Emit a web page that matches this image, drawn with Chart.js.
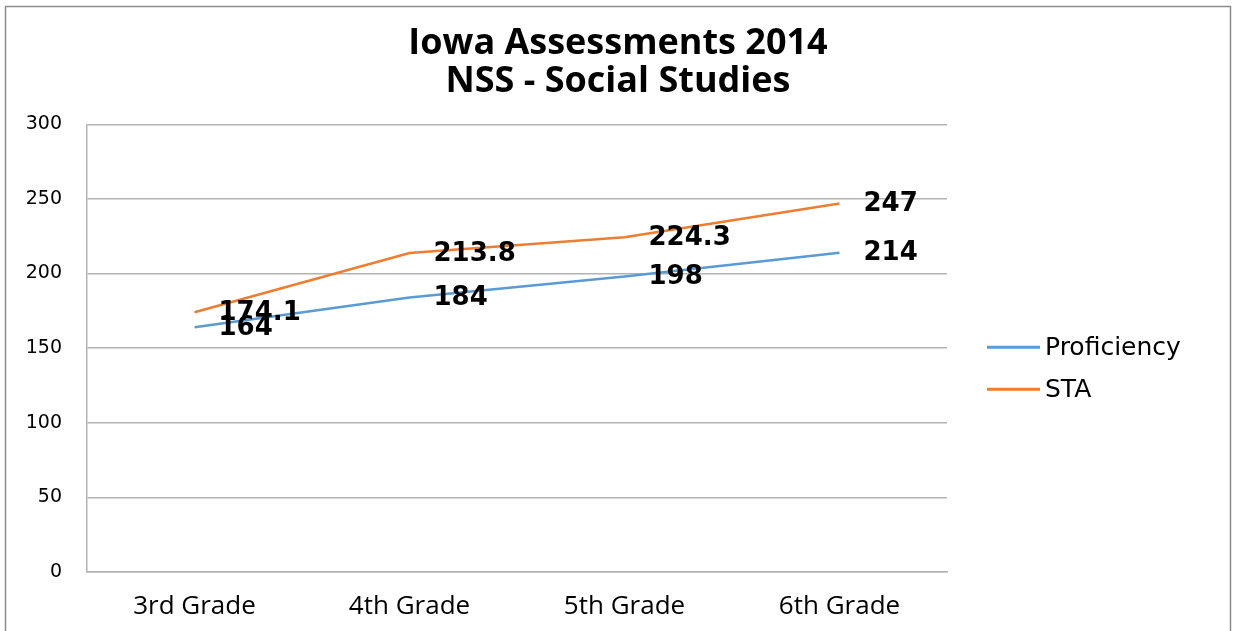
<!DOCTYPE html>
<html>
<head>
<meta charset="utf-8">
<script src="https://cdn.jsdelivr.net/npm/chart.js@4.4.1/dist/chart.umd.min.js"></script>
<style>
  html, body { margin: 0; padding: 0; background: #fff; }
  #wrap { width: 1236px; height: 631px; }
</style>
</head>
<body>
<div id="wrap"><canvas id="nssChart" width="1236" height="631"></canvas></div>
<script>
// chart data
const grades = ["3rd Grade", "4th Grade", "5th Grade", "6th Grade"];
const proficiency = [164, 184, 198, 214];
const sta = [174.1, 213.8, 224.3, 247];
const titleLines = ["Iowa Assessments 2014", "NSS - Social Studies"];

const BLUE = "#5b9bd5";
const ORANGE = "#ed7d31";
const GRID = "#b3b3b3";

// frame + white background
const framePlugin = {
  id: "frame",
  beforeDraw(chart) {
    const c = chart.ctx;
    c.save();
    c.fillStyle = "#fff";
    c.fillRect(0, 0, chart.width, chart.height);
    c.strokeStyle = "#8c8c8c";
    c.lineWidth = 1.5;
    c.strokeRect(5.5, 6.5, chart.width - 11, chart.height + 10);
    c.restore();
  }
};

// value labels to the right of each point
const valueLabels = {
  id: "valueLabels",
  afterDatasetsDraw(chart) {
    const c = chart.ctx;
    c.save();
    c.font = "bold 26px 'DejaVu Sans'";
    c.fillStyle = "#000";
    c.textAlign = "left";
    c.textBaseline = "middle";
    chart.data.datasets.forEach((ds, i) => {
      chart.getDatasetMeta(i).data.forEach((pt, j) => {
        c.fillText(String(ds.data[j]), pt.x + 24, pt.y + 1);
      });
    });
    c.restore();
  }
};

// line-style legend in the space right of the plot
const sideLegend = {
  id: "sideLegend",
  afterDraw(chart) {
    const c = chart.ctx;
    const area = chart.chartArea;
    const x0 = area.right + 40;
    const y0 = (area.top + area.bottom) / 2 - 1;
    c.save();
    c.font = "25px 'DejaVu Sans'";
    c.textBaseline = "middle";
    c.textAlign = "left";
    chart.data.datasets.forEach((ds, i) => {
      const y = y0 + i * 42;
      c.strokeStyle = ds.borderColor;
      c.lineWidth = 3;
      c.beginPath();
      c.moveTo(x0, y);
      c.lineTo(x0 + 53, y);
      c.stroke();
      c.fillStyle = "#000";
      c.fillText(ds.label, x0 + 58, y + 1);
    });
    c.restore();
  }
};

new Chart(document.getElementById("nssChart"), {
  type: "line",
  data: {
    labels: grades,
    datasets: [
      {
        label: "Proficiency",
        data: proficiency,
        yAxisID: "y",
        borderColor: BLUE,
        backgroundColor: BLUE,
        borderWidth: 2.5,
        pointRadius: 0,
        tension: 0
      },
      {
        label: "STA",
        data: sta,
        yAxisID: "y",
        borderColor: ORANGE,
        backgroundColor: ORANGE,
        borderWidth: 2.5,
        pointRadius: 0,
        tension: 0
      }
    ]
  },
  options: {
    responsive: false,
    animation: false,
    plugins: {
      title: {
        display: true,
        text: titleLines,
        color: "#000",
        font: { family: "'Open Sans'", size: 36, weight: "bold", lineHeight: 1.06 },
        padding: { top: 25, bottom: 23 }
      },
      legend: { display: false },
      tooltip: { enabled: false }
    },
    scales: {
      x: {
        offset: true,
        grid: { display: false },
        border: { display: true, color: GRID, width: 1.5 },
        ticks: {
          color: "#000",
          padding: 11,
          font: { family: "'Open Sans'", size: 26 }
        },
        afterFit(scale) { scale.height = 59; }
      },
      y: {
        min: 0,
        max: 300,
        grid: { color: GRID, lineWidth: 1.5, drawTicks: false },
        border: { display: true, color: GRID, width: 1.5 },
        ticks: {
          stepSize: 50,
          color: "#000",
          padding: 25,
          font: { family: "'DejaVu Sans'", size: 19 }
        },
        afterFit(scale) { scale.width = 87; }
      },
      // empty space right of the plot, used by the legend
      side: {
        type: "linear",
        position: "right",
        grid: { display: false },
        border: { display: false },
        ticks: { display: false },
        afterFit(scale) { scale.width = 289; }
      }
    }
  },
  plugins: [framePlugin, valueLabels, sideLegend]
});
</script>
</body>
</html>
